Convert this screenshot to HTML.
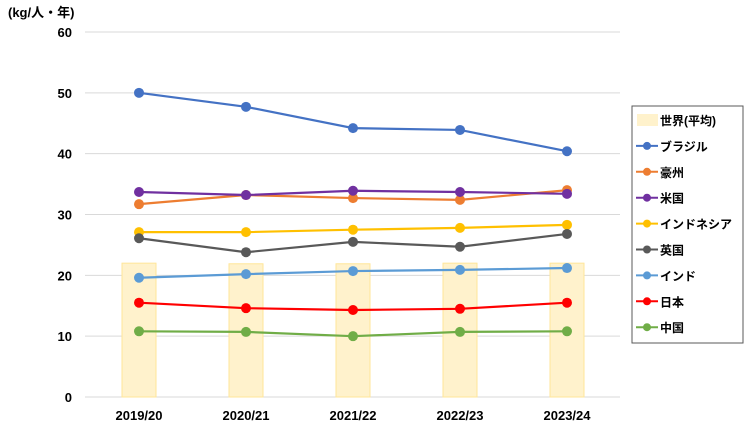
<!DOCTYPE html>
<html><head><meta charset="utf-8"><style>
html,body{margin:0;padding:0;background:#fff;}
svg text{font-family:"Liberation Sans","Noto Sans CJK JP",sans-serif;font-weight:bold;fill:#000;}
</style></head><body>
<svg id="chart" width="750" height="434" xmlns="http://www.w3.org/2000/svg">
<text x="8" y="17" font-size="13">(kg/人・年)</text>
<g id="grid"></g><g id="bars"></g><g id="lines"></g><g id="xlabels"></g><g id="ylabels"></g>
<g id="legend">
<rect x="632" y="106" width="111" height="237" fill="#fff" stroke="#595959" stroke-width="1"/>
</g>
</svg>
<script>
const categories=["2019/20","2020/21","2021/22","2022/23","2023/24"];
const yTicks=[0,10,20,30,40,50,60];
const worldAvg=[22.0,21.9,21.9,22.0,22.0];
const seriesNames=["ブラジル","豪州","米国","インドネシア","英国","インド","日本","中国"];
const seriesColors=["#4472C4","#ED7D31","#7030A0","#FFC000","#595959","#5B9BD5","#FF0000","#70AD47"];
const brazil=[50.0,47.7,44.2,43.9,40.4];
const australia=[31.7,33.2,32.7,32.4,34.0];
const usa=[33.7,33.2,33.9,33.7,33.4];
const indonesia=[27.1,27.1,27.5,27.8,28.3];
const uk=[26.1,23.8,25.5,24.7,26.8];
const india=[19.6,20.2,20.7,20.9,21.2];
const japan=[15.5,14.6,14.3,14.5,15.5];
const china=[10.8,10.7,10.0,10.7,10.8];
const seriesData=[brazil,australia,usa,indonesia,uk,india,japan,china];
const slugs=["brazil","australia","usa","indonesia","uk","india","japan","china"];
const NS="http://www.w3.org/2000/svg";
const y0=397,y1=32,vmax=60,xL=85,xR=620;
const yS=v=>y0-(v/vmax)*(y0-y1);
const band=(xR-xL)/categories.length;
const xS=i=>xL+band*(i+0.5)+0.5;
function mk(tag,parent,attrs){const e=document.createElementNS(NS,tag);for(const k in attrs)e.setAttribute(k,attrs[k]);document.getElementById(parent).appendChild(e);return e;}
yTicks.forEach(t=>{
 const l=mk("line","grid",{x1:xL,x2:xR,y1:yS(t),y2:yS(t),stroke:"#D9D9D9","stroke-width":1});
 
 
 const tx=mk("text","ylabels",{x:72,y:yS(t)+5,"text-anchor":"end","font-size":13});
 tx.textContent=t;
 
 
});
categories.forEach((c,i)=>{
 const tx=mk("text","xlabels",{x:xS(i),y:420,"text-anchor":"middle","font-size":13});
 tx.textContent=c;
 
 
 const b=mk("rect","bars",{x:xS(i)-17,y:yS(worldAvg[i]),width:34,height:y0-yS(worldAvg[i]),fill:"#FFF2CC",stroke:"#FFE699","stroke-width":1});
 
 
});
seriesData.forEach((d,s)=>{
 const p=mk("polyline","lines",{points:d.map((v,i)=>xS(i)+","+yS(v)).join(" "),fill:"none",stroke:seriesColors[s],"stroke-width":2.2});
 
 
 d.forEach((v,i)=>{
  const c=mk("circle","lines",{cx:xS(i),cy:yS(v),r:5,fill:seriesColors[s]});
  
  
 });
});
// legend
const ly=i=>120+i*25.9;
const lr=mk("rect","legend",{x:637,y:ly(0)-6,width:21,height:12,fill:"#FFF2CC"});


const lt=mk("text","legend",{x:660,y:ly(0)+5,"font-size":12});
lt.textContent="世界(平均)";


seriesNames.forEach((n,s)=>{
 const y=ly(s+1);
 const l=mk("line","legend",{x1:636,x2:658,y1:y,y2:y,stroke:seriesColors[s],"stroke-width":2});
 
 
 const c=mk("circle","legend",{cx:647,cy:y,r:4,fill:seriesColors[s]});
 
 
 const t=mk("text","legend",{x:660,y:y+5,"font-size":12});
 t.textContent=n;
 
 
});
</script>
</body></html>
